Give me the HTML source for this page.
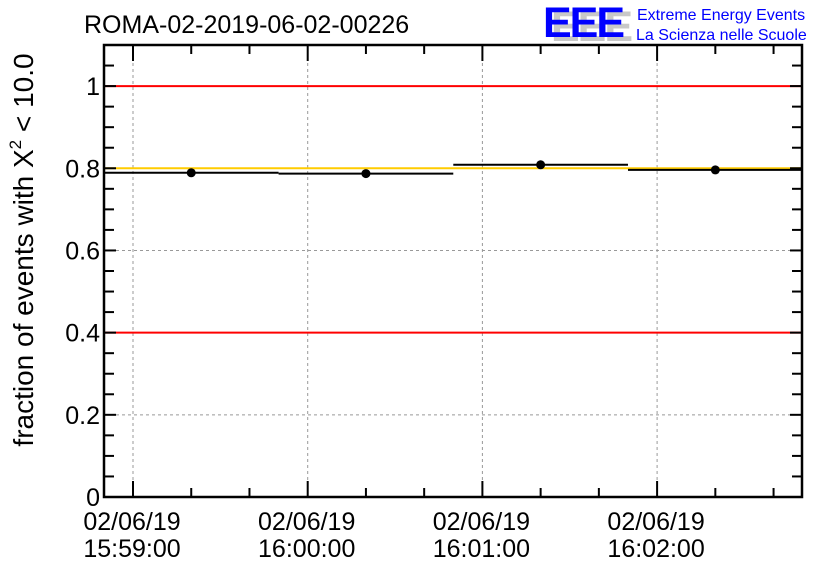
<!DOCTYPE html>
<html><head><meta charset="utf-8"><style>
body{margin:0;background:#fff;}
svg{display:block;font-family:"Liberation Sans",sans-serif;}
</style></head><body>
<svg id="c" width="836" height="572"></svg>
<script>
const binLabels=["15:59:20","16:00:20","16:01:20","16:02:20"];
const binValues=[0.789,0.787,0.8085,0.796];
const refLines=[1.0,0.4];
const targetLine=[0.8];
const yTicks=[0,0.2,0.4,0.6,0.8,1];
const yTickLabels=["0","0.2","0.4","0.6","0.8","1"];
const xTickMinutes=[0,1,2,3];
const xTickDate=["02/06/19","02/06/19","02/06/19","02/06/19"];
const xTickTime=["15:59:00","16:00:00","16:01:00","16:02:00"];
const binStarts=[-1/6,5/6,11/6,17/6];
const binWidth=1;

const L=104,R=802,T=45,B=497;
const X0=133,PXMIN=174.7;
const sx=m=>X0+m*PXMIN;
const sy=v=>B-v*(B-T)/1.1;
const svg=document.getElementById('c');
const NS="http://www.w3.org/2000/svg";
function mk(t,a,p){const e=document.createElementNS(NS,t);for(const k in a)e.setAttribute(k,a[k]);(p||svg).appendChild(e);return e;}

yTicks.slice(1).forEach((v,i)=>{const g=mk('line',{x1:L,x2:R,y1:sy(v),y2:sy(v),stroke:'#999','stroke-dasharray':'3,3','stroke-width':1});

});
xTickMinutes.forEach(m=>{const g=mk('line',{x1:sx(m),x2:sx(m),y1:T,y2:B,stroke:'#999','stroke-dasharray':'3,3','stroke-width':1});

});

refLines.forEach(v=>{const l=mk('line',{x1:L,x2:R,y1:sy(v),y2:sy(v),stroke:'#f00','stroke-width':2});

});
targetLine.forEach(v=>{const l=mk('line',{x1:L,x2:R,y1:sy(v),y2:sy(v),stroke:'#fc0','stroke-width':2});

});

binValues.forEach((v,i)=>{
 const x1=Math.max(sx(binStarts[i]),L),x2=Math.min(sx(binStarts[i]+binWidth),R);
 const s=mk('line',{x1:x1,x2:x2,y1:sy(v),y2:sy(v),stroke:'#000','stroke-width':2});
 
 
 const c=mk('circle',{cx:sx(binStarts[i]+binWidth/2),cy:sy(v),r:4.5,fill:'#000'});
 
 
});

const f=mk('rect',{x:L,y:T,width:R-L,height:B-T,fill:'none',stroke:'#000','stroke-width':2.5});



for(let k=0;k<=22;k++){const v=k*0.05;const major=k%4===0;const len=major?12:10;const y=sy(v);
 mk('line',{x1:L,x2:L+len,y1:y,y2:y,stroke:'#000','stroke-width':2});
 mk('line',{x1:R,x2:R-len,y1:y,y2:y,stroke:'#000','stroke-width':2});}
yTicks.forEach((v,i)=>{const t=mk('text',{x:L-4,y:sy(v)+9,'text-anchor':'end','font-size':25,fill:'#000'});
t.textContent=yTickLabels[i];

});

for(let k=-1;k<=12;k++){const m=k/3;const x=sx(m);if(x<L+2||x>R-2)continue;const len=k%3===0?16:9;
 mk('line',{x1:x,x2:x,y1:B,y2:B-len,stroke:'#000','stroke-width':2});
 mk('line',{x1:x,x2:x,y1:T,y2:T+len,stroke:'#000','stroke-width':2});}
xTickMinutes.forEach((m,i)=>{
 const t=mk('text',{x:sx(m)-1,y:530,'text-anchor':'middle','font-size':25,fill:'#000'});t.textContent=xTickDate[i];
 
 
 const t2=mk('text',{x:sx(m)-1,y:557,'text-anchor':'middle','font-size':25,fill:'#000'});t2.textContent=xTickTime[i];
 
 });
</script>
<svg style="position:absolute;left:0;top:0" width="836" height="572">
<text x="84" y="33" font-size="25" fill="#000">ROMA-02-2019-06-02-00226</text>
<text transform="translate(33,250) rotate(-90)" text-anchor="middle" font-size="28" fill="#000">fraction of events with Χ<tspan font-size="17" dy="-12">2</tspan><tspan dy="12"> &lt; 10.0</tspan></text>
<g>
<text x="551" y="41" font-size="43" font-weight="bold" fill="#c8c8c8" letter-spacing="-2">EEE</text>
<text x="543" y="37" font-size="43" font-weight="bold" fill="#0000ff" letter-spacing="-2">EEE</text>
<text x="637" y="20" font-size="16" fill="#0000ff">Extreme Energy Events</text>
<text x="636" y="40" font-size="16" fill="#0000ff">La Scienza nelle Scuole</text>
</g>
</svg>
</body></html>
